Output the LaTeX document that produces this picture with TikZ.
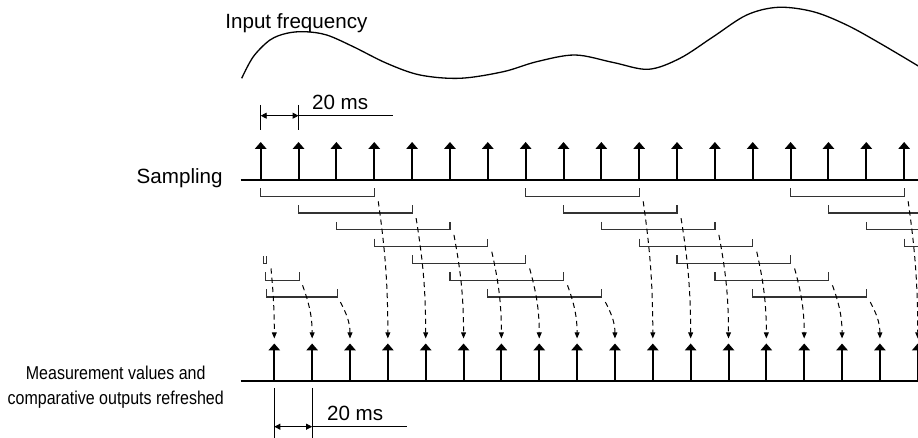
\documentclass[tikz,border=0pt]{standalone}
\usepackage{fontspec}
\setmainfont{Liberation Sans}
\newfontfamily\narrowfont[FakeStretch=0.86]{Liberation Sans}
\usetikzlibrary{arrows.meta,calc}

\begin{document}
\begin{tikzpicture}[
    x=0.5pt, y=-0.5pt,
    txt/.style={inner sep=0pt, font=\fontsize{10.3}{12}\selectfont},
    smalltxt/.style={inner sep=0pt, font=\narrowfont\fontsize{9.3}{11}\selectfont},
    axis/.style={line width=1pt},
    pulse/.style={-{Triangle[width=5.6pt,length=3.4pt]}, line width=1pt},
    window/.style={line width=0.6pt, black!80},
    refresh/.style={-{Triangle[width=2.4pt,length=3pt]}, dash pattern=on 2.6pt off 2pt, line width=0.5pt},
    dim/.style={line width=0.45pt},
    dimarrow/.style={{Triangle[width=3pt,length=3pt]}-{Triangle[width=3pt,length=3pt]}, line width=0.45pt}
]
\useasboundingbox (0,0) rectangle (918,438);
\clip (0,0) rectangle (918,438);

% Input frequency
\node[txt, anchor=base west] (infreq) at (225,28.3) {Input frequency};
\draw[line width=0.65pt] plot[smooth, tension=0.55] coordinates {(241.7,78.3) (253.3,56.7) (270,40) (286.7,33.3) (305,31.7) (326.7,35) (353.3,46.7) (386.7,63.3) (420,75) (460,78.3) (503.3,71.7) (536.7,61.7) (575,55) (613.3,62.5) (648.3,69.3) (680,58.3) (713.3,36.7) (746.7,15) (778.3,7.3) (813.3,11.7) (846.7,25) (880,43.3) (918.3,66)};

% 20 ms sampling period
\coordinate (p0) at (260.7,115.7);
\coordinate (p1) at (298.55,115.7);
\draw[dim] (260.7,105) -- (260.7,130);
\draw[dim] (298.55,105) -- (298.55,130);
\draw[dimarrow] (p0) -- (p1);
\draw[dim] (p1) -- (393,115.7);
\node[txt, anchor=base west] (period1) at (311.7,109.3) {20 ms};

% Sampling
\node[txt, anchor=base east] (sampling) at (223,183.5) {Sampling};
\draw[axis] (240.7,180) -- (918,180);
\foreach \i in {0,...,17} {
    \coordinate (s\i) at ({260.7+37.85*\i},180);
    \draw[pulse] (s\i) -- ++(0,-38);
}

% Measurement windows (4 samples each)
\foreach \g in {0,1,2} {
    \foreach \r in {0,...,6} {
        \pgfmathtruncatemacro\s{7*\g+\r}
        \ifnum\s<18
            \draw[window] ({260.7+37.85*\s},{188.3+16.8*\r}) |- ({260.7+37.85*(\s+3)},{196.3+16.8*\r}) -- ++(0,-8);
        \fi
    }
}
% start-up windows
\draw[window] (263.5,256.3) |- (266.8,263.5) -- ++(0,-7.2);
\draw[window] (265.5,272.3) |- (299.3,280.3) -- ++(0,-8);
\draw[window] (266.5,289.1) |- (337.7,297.1) -- ++(0,-8);

% Refresh
\node[smalltxt, anchor=base] (meas1) at (115.7,379.7) {Measurement values and};
\node[smalltxt, anchor=base] (meas2) at (115.7,404.7) {comparative outputs refreshed};
\draw[axis] (240.7,381.3) -- (918,381.3);
\foreach \j in {0,...,17} {
    \pgfmathtruncatemacro\r{\j<3 ? \j+4 : mod(\j-3,7)}
    \pgfmathsetmacro\xa{\j==0 ? 271 : 264.7+37.85*\j}
    \pgfmathsetmacro\ya{201.3+16.8*\r}
    \pgfmathsetmacro\xb{274.3+37.85*\j}
    \pgfmathsetmacro\dy{338.5-\ya}
    \coordinate (e\j) at (\xa,\ya);
    \coordinate (t\j) at (\xb,338.5);
    \coordinate (o\j) at (\xb,381.3);
    \draw[refresh] (e\j) .. controls ({\xa+0.6*(\xb-\xa)},{\ya+0.3*\dy}) and (\xb,{338.5-0.45*\dy}) .. (t\j);
    \draw[pulse] (o\j) -- ++(0,-37.8);
}

% 20 ms refresh period
\coordinate (q0) at (274.3,426.7);
\coordinate (q1) at (312.15,426.7);
\draw[dim] (274.3,388) -- (274.3,438);
\draw[dim] (312.15,388) -- (312.15,438);
\draw[dimarrow] (q0) -- (q1);
\draw[dim] (q1) -- (406.7,426.7);
\node[txt, anchor=base west] (period2) at (326.7,421) {20 ms};

\end{tikzpicture}
\end{document}
